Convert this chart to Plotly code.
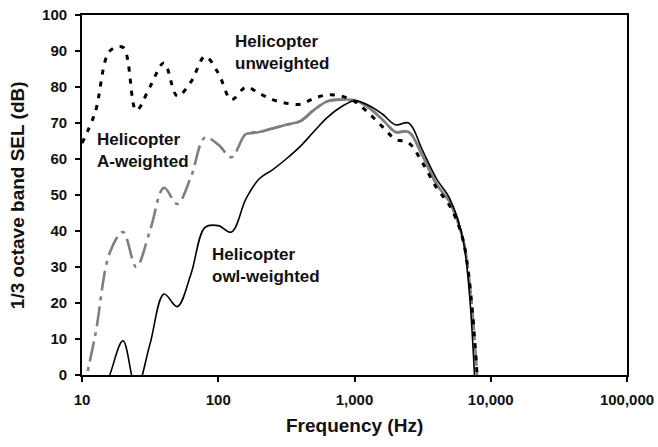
import plotly.graph_objects as go

# 1/3-octave band centre frequencies (Hz)
freq = [10, 12.5, 16, 20, 25, 31.5, 40, 50, 63, 80, 100, 125, 160, 200, 250,
        315, 400, 500, 630, 800, 1000, 1250, 1600, 2000, 2500, 3150, 4000,
        5000, 6300, 8000]

# Helicopter SEL per band (dB)
unweighted = [64.4, 73, 90, 91, 73.5, 80, 86.7, 77.5, 81.4, 88.5, 83.9, 76.5,
              80, 78.2, 76.5, 75.5, 75.2, 76.8, 77.8, 77.5, 76, 73, 69, 65.5,
              64.5, 59, 52, 47, 37, -2]
a_weighted = [-6, 11, 34, 39.7, 30, 40, 52, 47.5, 55, 66, 64, 60.5, 67, 67.5,
              68.5, 69.5, 70.5, 73.5, 76, 76.5, 76.3, 74.5, 71, 67.5, 67.5,
              61, 53, 48, 37.5, -2]
owl_weighted = [-25, -12, 0, 9.5, -4, 8.5, 22.5, 19, 28, 41, 41.5, 39.7, 49,
                54.5, 57, 60, 63.5, 67.5, 71.5, 74.5, 76.2, 75, 72.5, 69.5, 70,
                62.5, 54.5, 49, 37, -20]

x_tickvals = [10, 100, 1000, 10000, 100000]
x_ticktext = ["10", "100", "1,000", "10,000", "100,000"]

# middle band range where the A-weighted curve appears as a continuous line
solid_lo, solid_hi = 160, 6300
mid_idx = [i for i, f in enumerate(freq) if solid_lo <= f <= solid_hi]

FONT = "Liberation Sans, Arial, Helvetica, sans-serif"

fig = go.Figure()
fig.add_trace(go.Scatter(
    x=freq, y=a_weighted, mode="lines", line_shape="spline",
    line=dict(color="#7f7f7f", width=2.6, dash="20px,6px,4px,6px"),
    showlegend=False, hoverinfo="skip"))
fig.add_trace(go.Scatter(
    x=[freq[i] for i in mid_idx], y=[a_weighted[i] for i in mid_idx],
    mode="lines", line_shape="spline",
    line=dict(color="#7f7f7f", width=2.6),
    showlegend=False, hoverinfo="skip"))
fig.add_trace(go.Scatter(
    x=freq, y=unweighted, mode="lines", line_shape="spline",
    line=dict(color="black", width=3, dash="5px,7px"),
    showlegend=False, hoverinfo="skip"))
fig.add_trace(go.Scatter(
    x=freq, y=owl_weighted, mode="lines", line_shape="spline",
    line=dict(color="black", width=1.6),
    showlegend=False, hoverinfo="skip"))

labels = [
    ("Helicopter<br>unweighted", 0.277, 0.897),
    ("Helicopter<br>A-weighted", 0.024, 0.625),
    ("Helicopter<br>owl-weighted", 0.235, 0.303),
]
for txt, ax, ay in labels:
    fig.add_annotation(text=txt, xref="paper", yref="paper", x=ax, y=ay,
                       xanchor="left", yanchor="middle", align="left",
                       showarrow=False,
                       font=dict(family=FONT, size=17, color="#111",
                                 weight="bold"))

fig.add_annotation(text="Frequency (Hz)", xref="paper", yref="paper",
                   x=0.5, y=-0.139, xanchor="center", yanchor="middle",
                   showarrow=False,
                   font=dict(family=FONT, size=19, color="#111", weight="bold"))
fig.add_annotation(text="1/3 octave band SEL (dB)", xref="paper", yref="paper",
                   x=-0.119, y=0.5, xanchor="center", yanchor="middle",
                   textangle=-90, showarrow=False,
                   font=dict(family=FONT, size=19, color="#111", weight="bold"))

tickfont = dict(family=FONT, size=15, color="#111", weight="bold")
fig.update_xaxes(type="log", range=[1, 5], tickvals=x_tickvals,
                 ticktext=x_ticktext, ticks="outside", ticklen=5, tickwidth=1.5,
                 tickcolor="black", showline=True, linecolor="black",
                 linewidth=1.8, mirror=True, showgrid=False, zeroline=False,
                 tickfont=tickfont, automargin=False, ticklabelstandoff=5)
fig.update_yaxes(range=[0, 100], dtick=10, ticks="outside", ticklen=5,
                 tickwidth=1.5, tickcolor="black", showline=True,
                 linecolor="black", linewidth=1.8, mirror=True, showgrid=False,
                 zeroline=False, tickfont=tickfont, automargin=False,
                 ticklabelstandoff=5)

fig.update_layout(width=658, height=447,
                  margin=dict(l=82, r=31, t=15, b=72),
                  paper_bgcolor="white", plot_bgcolor="white",
                  font=dict(family=FONT, size=15, color="#111"))

fig.write_html(
    "out.html",
    config={"displayModeBar": False},
    post_script="document.body.style.margin='0';"
                "document.body.style.overflow='hidden';")
